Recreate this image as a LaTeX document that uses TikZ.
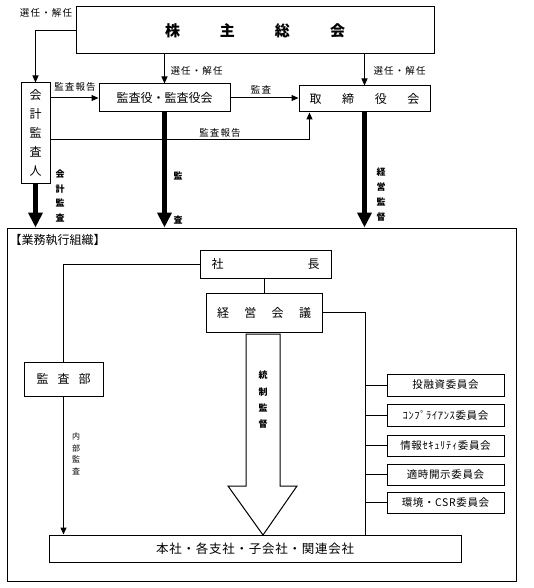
\documentclass[tikz,border=0pt]{standalone}
\usepackage{fontspec}
\setmainfont{Noto Sans CJK JP}
\usetikzlibrary{arrows.meta}
\newlength{\du}
\setlength{\du}{1pt}
\newcommand{\soukaifont}{\fontsize{15}{18}\selectfont\bfseries}
\newcommand{\boxfont}{\fontsize{12}{14}\selectfont}
\newcommand{\labfont}{\fontsize{9.5}{11}\selectfont\addfontfeature{LetterSpace=12}}
\newcommand{\iinfont}{\fontsize{10.5}{12}\selectfont\addfontfeature{LetterSpace=6}}
\tikzset{
  box/.style={draw,line width=1\du,inner sep=0pt,fill=white},
  thinarr/.style={line width=1\du,-{Triangle[width=6pt,length=7pt]}},
  thickarr/.style={line width=5\du,-{Triangle[width=14pt,length=15pt]}},
  vlab/.style={align=center,inner sep=0pt,font=\fontsize{9}{14.7}\selectfont\bfseries},
}

\begin{document}
\begin{tikzpicture}[x=1\du,y=-1\du]
\useasboundingbox (0,0) rectangle (533,588);
% upper part
\node[box,minimum width=358\du,minimum height=47\du,font=\soukaifont] (soukai) at (255,30.5) {\makebox[180\du]{株\hfill 主\hfill 総\hfill 会}};
\node[box,minimum width=29\du,minimum height=100\du,align=center,font=\fontsize{12}{19}\selectfont] (kaikei) at (35.5,133) {会\\計\\監\\査\\人};
\node[box,minimum width=131\du,minimum height=28\du,font=\boxfont] (kansayaku) at (164.5,98) {監査役・監査役会};
\node[box,minimum width=131\du,minimum height=26\du,font=\boxfont] (torishimari) at (364.5,99) {\makebox[110\du]{取\hfill 締\hfill 役\hfill 会}};
\draw[thinarr] (soukai.west) -| (kaikei.north);
\draw[thinarr] (kansayaku.north |- soukai.south) -- (kansayaku.north);
\draw[thinarr] (torishimari.north |- soukai.south) -- (torishimari.north);
\draw[thinarr] (kaikei.east |- kansayaku.west) -- (kansayaku.west);
\draw[thinarr] (kansayaku.east) -- (torishimari.west |- kansayaku.east);
\draw[thinarr] ([yshift=-7\du]kaikei.east) -| ([xshift=-55\du]torishimari.south);
\node[font=\labfont] (sennin1) at (46,13) {選任・解任};
\node[font=\labfont,anchor=west] (sennin2) at (167,71) {選任・解任};
\node[font=\labfont,anchor=west] (sennin3) at (370,71) {選任・解任};
\node[font=\labfont] (houkoku1) at (75,87) {監査報告};
\node[font=\labfont] (kansa) at (261,90) {監査};
\node[font=\labfont] (houkoku2) at (220,133) {監査報告};
% execution organisation
\node[box,fill=none,minimum width=509\du,minimum height=353\du] (gyomu) at (261.5,404.5) {};
\node[anchor=west,font=\fontsize{12}{14}\selectfont] (gyomulab) at (6,240) {【業務執行組織】};
\draw[thickarr] (kaikei.south) -- (kaikei.south |- gyomu.north);
\draw[thickarr] (kansayaku.south) -- (kansayaku.south |- gyomu.north);
\draw[thickarr] (torishimari.south) -- (torishimari.south |- gyomu.north);
\node[vlab] (kaikeilab) at (60,196) {会\\計\\監\\査};
\node[vlab,font=\fontsize{9}{44}\selectfont\bfseries] (kansalab) at (178,198) {監\\査};
\node[vlab,font=\fontsize{9}{15}\selectfont\bfseries] (keieilab) at (381,194.5) {経\\営\\監\\督};
\node[box,minimum width=131\du,minimum height=28\du,font=\boxfont] (shacho) at (265.5,264) {\makebox[108\du]{社\hfill 長}};
\node[box,minimum width=116\du,minimum height=39\du,font=\boxfont] (keiei) at (264,312.5) {\makebox[94\du]{経\hfill 営\hfill 会\hfill 議}};
\node[box,minimum width=79\du,minimum height=34\du,font=\boxfont] (kansabu) at (63.5,379) {\makebox[54\du]{監\hfill 査\hfill 部}};
\node[box,minimum width=412\du,minimum height=27\du,font=\fontsize{12.5}{14}\selectfont\addfontfeature{LetterSpace=6}] (honsha) at (255,548.5) {本社・各支社・子会社・関連会社};
\draw[line width=1\du] (keiei.north |- shacho.south) -- (keiei.north);
\draw[line width=1\du] (shacho.west) -| (kansabu.north);
\draw[thinarr] (kansabu.south) -- (kansabu.south |- honsha.north);
\node[vlab,font=\fontsize{8}{11.5}\selectfont] (naibulab) at (76,454) {内\\部\\監\\査};
% big hollow arrow
\draw[line width=1\du,fill=white] (246,334) -- (246,486) -- (228,486) -- (263,535) -- (297,486) -- (280,486) -- (280,334) -- cycle;
\node[vlab,font=\fontsize{9}{16.3}\selectfont\bfseries] (toseilab) at (263,400) {統\\制\\監\\督};
% committees
\node[box,minimum width=117\du,minimum height=22\du,font=\iinfont] (iin1) at (445.5,385) {投融資委員会};
\node[box,minimum width=117\du,minimum height=22\du,font=\iinfont] (iin2) at (445.5,415) {ｺﾝﾌﾟﾗｲｱﾝｽ委員会};
\node[box,minimum width=117\du,minimum height=21\du,font=\iinfont] (iin3) at (445.5,445.5) {情報ｾｷｭﾘﾃｨ委員会};
\node[box,minimum width=117\du,minimum height=21\du,font=\iinfont] (iin4) at (445.5,474.5) {適時開示委員会};
\node[box,minimum width=117\du,minimum height=21\du,font=\iinfont] (iin5) at (445.5,502.5) {環境・CSR委員会};
\draw[line width=1\du] (keiei.east) -| ([xshift=-21\du]iin1.west |- honsha.north);
\draw[line width=1\du] (iin1.west) -- ++(-21,0);
\draw[line width=1\du] (iin2.west) -- ++(-21,0);
\draw[line width=1\du] (iin3.west) -- ++(-21,0);
\draw[line width=1\du] (iin4.west) -- ++(-21,0);
\draw[line width=1\du] (iin5.west) -- ++(-21,0);
\end{tikzpicture}
\end{document}
